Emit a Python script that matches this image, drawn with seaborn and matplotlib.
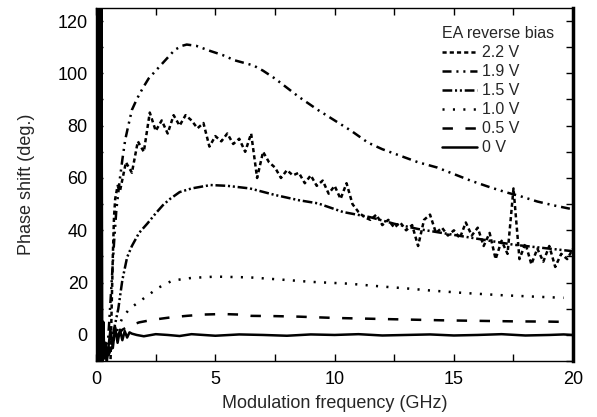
import matplotlib
matplotlib.use("Agg")
import matplotlib.pyplot as plt
from matplotlib.ticker import MultipleLocator
import seaborn as sns

# 2.2 V (noisy trace)
f22 = [0.6, 0.65, 0.7, 0.75, 0.8, 0.9,
       1.0, 1.25, 1.5, 1.75, 2.0, 2.25, 2.5, 2.75, 3.0, 3.25, 3.5, 3.75,
       4.0, 4.25, 4.5, 4.75, 5.0, 5.25, 5.5, 5.75, 6.0, 6.25, 6.5, 6.75,
       7.0, 7.25, 7.5, 7.75, 8.0, 8.25, 8.5, 8.75, 9.0, 9.25, 9.5, 9.75,
       10.0, 10.25, 10.5, 10.75, 11.0, 11.25, 11.5, 11.75, 12.0, 12.25,
       12.5, 12.75, 13.0, 13.25, 13.5, 13.75, 14.0, 14.25, 14.5, 14.75,
       15.0, 15.25, 15.5, 15.75, 16.0, 16.25, 16.5, 16.75, 17.0, 17.25,
       17.5, 17.75, 18.0, 18.25, 18.5, 18.75, 19.0, 19.25, 19.5, 19.75, 20.0]
ph22 = [-12, 10, 30, 45, 52, 57,
        55, 66, 62, 74, 70, 85, 78, 82, 77, 84, 80, 84,
        82, 79, 81, 72, 76, 74, 77, 73, 75, 70, 77, 60,
        70, 66, 64, 60, 63, 61, 62, 58, 61, 57, 59, 54,
        57, 52, 58, 50, 47, 45, 44, 46, 42, 44,
        41, 43, 40, 42, 34, 44, 46, 39, 41, 38,
        40, 37, 43, 38, 41, 34, 39, 29, 36, 31,
        56, 29, 35, 27, 33, 28, 34, 26, 31, 29, 33]

# 1.9 V
f19 = [0.45, 0.55, 0.65, 0.75, 0.85, 1.0, 1.1, 1.22, 1.35, 1.5, 1.7, 1.85,
       2.0, 2.2, 2.4, 2.6, 2.9, 3.3, 3.6, 3.8, 4.2, 4.8, 5.3, 5.8, 6.2,
       6.6, 7.0, 7.5, 8.0, 8.5, 9.3, 10.0, 10.7, 11.4, 12.0, 12.9, 13.5,
       14.3, 15.0, 15.7, 16.5, 17.2, 17.8, 18.5, 19.2, 20.0]
ph19 = [-9, 5, 20, 35, 48, 60, 67, 74.6, 80, 86, 90, 92.6,
        95, 98, 100, 102, 105, 109, 110.5, 111, 110.5, 108.5, 107, 105, 104,
        103, 101, 98, 94.5, 91, 86, 82, 78, 73.5, 71, 68, 66,
        64, 61.5, 59, 56.5, 54.5, 53, 51, 49.5, 48]

# 1.5 V
f15 = [0.5, 0.7, 0.93, 1.1, 1.3, 1.5, 1.8, 2.15, 2.5, 2.8, 3.1, 3.5, 4.0,
       4.8, 5.5, 6.45, 7.5, 8.5, 9.3, 10.35, 11.5, 12.5, 13.5, 14.5, 15.5,
       16.5, 17.5, 18.5, 19.5, 20.0]
ph15 = [-8, 0, 10, 21, 29.7, 34, 39, 42.6, 46.5, 49.6, 52, 54.6, 56,
        57.3, 57, 56, 53.5, 51.5, 50.3, 47, 45, 42.5, 40.5, 39, 37.5,
        36, 34.5, 33.5, 32.5, 32]

# 1.0 V
f10 = [0.6, 0.8, 1.1, 1.4, 2.0, 2.6, 3.2, 4.0, 5.0, 6.45, 8.0, 9.0, 10.6,
       12.0, 13.0, 14.0, 15.5, 17.0, 18.5, 19.6]
ph10 = [-6, 0, 6.5, 10, 14, 18, 20.8, 21.8, 22.3, 22, 21, 20.3, 19.6,
        18.5, 17.8, 17, 16, 15.2, 14.6, 14.2]

# 0.5 V
f05 = [0.5, 0.7, 0.9, 1.1, 1.4, 1.8, 2.2, 2.7, 3.2, 3.8, 4.5, 5.3, 6.0,
       6.5, 7.5, 8.5, 10.0, 11.5, 13.0, 14.5, 16.0, 17.5, 19.0, 19.6]
ph05 = [-8, -4, 0, 2, 3.5, 4.8, 5.5, 6.2, 6.8, 7.3, 7.8, 8, 7.8,
        7.3, 7.2, 7, 6.5, 6.2, 5.9, 5.6, 5.4, 5.2, 5.1, 5]

# 0 V
f00 = [0.04, 0.07, 0.1, 0.13, 0.16, 0.19, 0.22, 0.26, 0.3, 0.35, 0.4, 0.45,
       0.5, 0.6, 0.7, 0.8, 0.9, 1.0, 1.1, 1.2, 1.3, 1.4, 1.5, 1.7, 2.0, 2.5,
       3.0, 3.5, 4.0, 4.5, 5.0, 6.0, 7.0, 8.0, 9.0, 10.0, 11.0, 12.0, 13.0,
       14.0, 15.0, 16.0, 17.0, 18.0, 19.0, 19.6, 20.0]
ph00 = [140, -20, 140, -20, 140, -20, 130, -15, 5, -9, -3, -10,
        -6, 2, -5, 3, -3, 2, -2, 1.5, -1, 1, 0.5, 0, -0.5, 0.3,
        0, -0.4, 0.3, 0, -0.3, 0.2, 0, -0.3, 0.2, 0, 0.3, -0.2, 0,
        0.2, -0.2, 0, 0.3, -0.2, 0, 0.2, 0]

labels = ["2.2 V", "1.9 V", "1.5 V", "1.0 V", "0.5 V", "0 V"]
freqs = [f22, f19, f15, f10, f05, f00]
phases = [ph22, ph19, ph15, ph10, ph05, ph00]
styles = [(0, (3, 2.2)),
          (0, (6.5, 3.5, 1.5, 3.5, 1.5, 3.5)),
          (0, (7, 2, 1.5, 2, 1.5, 2)),
          (0, (1.5, 6)),
          (0, (7.5, 9)),
          "-"]

sns.set_style("ticks")
plt.rcParams["font.family"] = ["Liberation Sans", "DejaVu Sans"]
plt.rcParams["lines.scale_dashes"] = False

fig = plt.figure(figsize=(5.97, 4.17), dpi=100)
ax = fig.add_axes([0.161, 0.134, 0.799, 0.847])

for f, p, lab, ls in zip(freqs, phases, labels, styles):
    sns.lineplot(x=f, y=p, ax=ax, color="black", lw=1.8, linestyle=ls,
                 label=lab, estimator=None, sort=False)

ax.set_xlim(0, 20)
ax.set_ylim(-10, 125)
ax.xaxis.set_major_locator(MultipleLocator(5))
ax.xaxis.set_minor_locator(MultipleLocator(2.5))
ax.yaxis.set_major_locator(MultipleLocator(20))
ax.yaxis.set_minor_locator(MultipleLocator(10))
ax.tick_params(which="both", direction="in", top=True, right=True,
               length=5, width=1, colors="black", labelsize=13)
ax.tick_params(axis="x", pad=7)
ax.tick_params(axis="y", pad=6)
for side in ["left", "top", "bottom"]:
    ax.spines[side].set_linewidth(1)
    ax.spines[side].set_color("black")
ax.spines["right"].set_linewidth(2.5)
ax.spines["right"].set_color("black")

ax.set_xlabel("Modulation frequency (GHz)", fontsize=13, labelpad=5)
ax.set_ylabel("Phase shift (deg.)", fontsize=13, labelpad=16)

leg = ax.legend(title="EA reverse bias", loc="upper left",
                bbox_to_anchor=(0.725, 0.948), frameon=False,
                fontsize=11.5, title_fontsize=11.5, handlelength=2.2,
                handletextpad=0.3, labelspacing=0.25, borderpad=0,
                borderaxespad=0, alignment="left")

fig.savefig("out.png", dpi=100)
